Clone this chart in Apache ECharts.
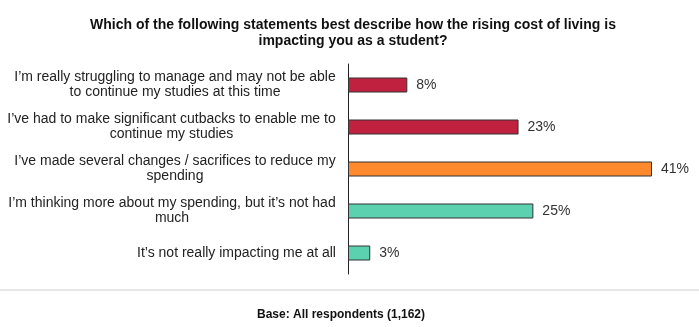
<!DOCTYPE html>
<html>
<head>
<meta charset="utf-8">
<script src="https://cdn.jsdelivr.net/npm/echarts@6/dist/echarts.min.js"></script>
<style>
html,body{margin:0;padding:0;background:#fff;}
#chart{width:699px;height:327px;}
</style>
</head>
<body>
<div id="chart"></div>
<script>
const titleText = 'Which of the following statements best describe how the rising cost of living is\nimpacting you as a student?';
const baseText = 'Base: All respondents (1,162)';
const categories = [
  'I\u2019m really struggling to manage and may not be able\nto continue my studies at this time',
  'I\u2019ve had to make significant cutbacks to enable me to\ncontinue my studies',
  'I\u2019ve made several changes / sacrifices to reduce my\nspending',
  'I\u2019m thinking more about my spending, but it\u2019s not had\nmuch',
  'It\u2019s not really impacting me at all'
];
const values = [8, 23, 41, 25, 3];
const barColors = ['#C0213F', '#C0213F', '#FF8A2E', '#5CD1B0', '#5CD1B0'];

const fontFam = '"Liberation Sans", Arial, sans-serif';
const ctx = document.createElement('canvas').getContext('2d');
ctx.font = '14px ' + fontFam;
const rich = {};
categories.forEach((c, i) => {
  const w = Math.max(...c.split('\n').map(s => ctx.measureText(s).width));
  rich['l' + i] = { width: Math.ceil(w), align: 'center', fontSize: 14, lineHeight: 15, color: '#222', fontFamily: fontFam };
});

const chart = echarts.init(document.getElementById('chart'), null, { renderer: 'canvas' });
chart.setOption({
  backgroundColor: '#fff',
  animation: false,
  title: {
    text: titleText,
    left: 348,
    top: 12,
    textAlign: 'center',
    textStyle: { fontSize: 14, fontWeight: 'bold', color: '#111', lineHeight: 16, fontFamily: fontFam }
  },
  grid: { left: 348, top: 64, width: 304, height: 210 },
  xAxis: { type: 'value', min: 0, max: 41, show: false },
  yAxis: {
    type: 'category', data: categories, inverse: true,
    axisLine: { show: true, lineStyle: { color: '#222', width: 1 } },
    axisTick: { show: false },
    axisLabel: {
      margin: 12,
      formatter: (v, i) => v.split('\n').map(s => '{l' + i + '|' + s + '}').join('\n'),
      rich: rich
    }
  },
  series: [{
    type: 'bar',
    data: values.map((v, i) => ({ value: v, itemStyle: { color: barColors[i] } })),
    barWidth: 15,
    itemStyle: { borderColor: '#333', borderWidth: 1 },
    label: { show: true, position: 'right', distance: 9, formatter: '{c}%', fontSize: 14, color: '#333', fontFamily: fontFam }
  }],
  graphic: [
    { type: 'rect', shape: { x: 0, y: 289, width: 699, height: 2 }, style: { fill: '#e6e6e6' } },
    { type: 'text', x: 341, y: 315, style: { text: baseText, align: 'center', verticalAlign: 'middle', fill: '#111', font: 'bold 12px ' + fontFam } }
  ]
});
</script>
</body>
</html>
